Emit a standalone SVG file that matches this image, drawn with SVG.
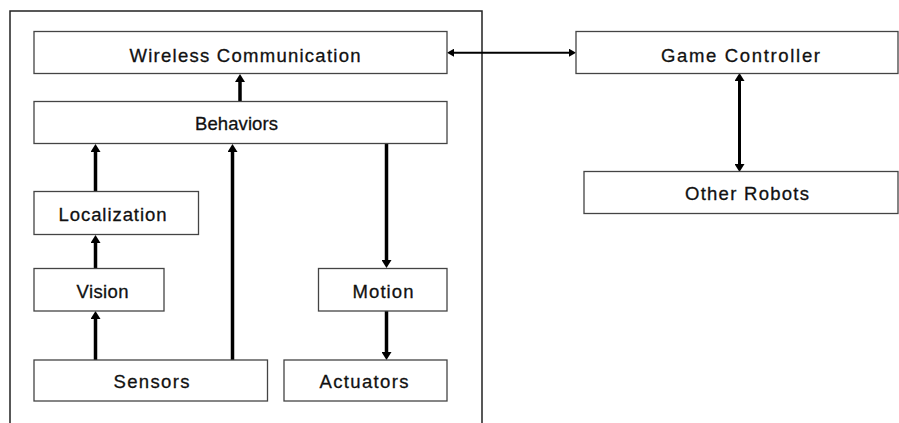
<svg xmlns="http://www.w3.org/2000/svg" width="899" height="423" viewBox="0 0 899 423">
<style>
  .box { fill: #ffffff; stroke: #444444; stroke-width: 1.3; }
  .lbl { font-family: "Liberation Sans", Arial, sans-serif; font-size: 18.5px; fill: #111111; stroke: #111111; stroke-width: 0.3; }
  .thick { stroke: #000000; stroke-width: 3.5; fill: none; }
  .thin { stroke: #000000; stroke-width: 2; fill: none; }
  .frame { fill: none; stroke: #222222; stroke-width: 1.5; }
</style>
<defs>
  <marker id="ah" viewBox="0 0 8 10" markerWidth="8" markerHeight="10" refX="2" refY="5" orient="auto-start-reverse" markerUnits="userSpaceOnUse">
    <path d="M0,0 L8,5 L0,10 z" fill="#000"/>
  </marker>
  <marker id="ahs" viewBox="0 0 7 8" markerWidth="7" markerHeight="8" refX="2" refY="4" orient="auto-start-reverse" markerUnits="userSpaceOnUse">
    <path d="M0,0 L7,4 L0,8 z" fill="#000"/>
  </marker>
</defs>
<rect width="899" height="423" fill="#ffffff"/>
<path class="frame" d="M10,430 V11 H482 V430"/>

<g id="connectors">
  <line class="thick" x1="240" y1="102" x2="240" y2="80" marker-end="url(#ah)"/>
  <line class="thick" x1="95.5" y1="192" x2="95.5" y2="150" marker-end="url(#ah)"/>
  <line class="thick" x1="95.5" y1="268" x2="95.5" y2="241" marker-end="url(#ah)"/>
  <line class="thick" x1="95.5" y1="360" x2="95.5" y2="317" marker-end="url(#ah)"/>
  <line class="thick" x1="232.5" y1="360" x2="232.5" y2="150" marker-end="url(#ah)"/>
  <line class="thick" x1="386.5" y1="143" x2="386.5" y2="262" marker-end="url(#ah)"/>
  <line class="thick" x1="386.5" y1="311" x2="386.5" y2="354" marker-end="url(#ah)"/>
  <line class="thin" x1="452" y1="52.7" x2="571" y2="52.7" marker-start="url(#ahs)" marker-end="url(#ahs)"/>
  <line style="stroke:#000;stroke-width:3;fill:none" x1="739.5" y1="79" x2="739.5" y2="166" marker-start="url(#ah)" marker-end="url(#ah)"/>
</g>

<g id="wireless">
  <rect class="box" x="34" y="31.5" width="413" height="42"/>
  <text class="lbl" x="129.5" y="62" textLength="231">Wireless Communication</text>
</g>
<g id="behaviors">
  <rect class="box" x="34" y="101.5" width="413" height="42"/>
  <text class="lbl" x="195" y="129.5" textLength="83">Behaviors</text>
</g>
<g id="localization">
  <rect class="box" x="34" y="191.5" width="164.5" height="43"/>
  <text class="lbl" x="58.5" y="220.5" textLength="108">Localization</text>
</g>
<g id="vision">
  <rect class="box" x="34" y="268.5" width="130" height="42.5"/>
  <text class="lbl" x="76.5" y="297.5" textLength="52">Vision</text>
</g>
<g id="motion">
  <rect class="box" x="318.5" y="268.5" width="128.5" height="42.5"/>
  <text class="lbl" x="352.5" y="297.5" textLength="61">Motion</text>
</g>
<g id="sensors">
  <rect class="box" x="34" y="360" width="233.5" height="41"/>
  <text class="lbl" x="113.5" y="388" textLength="76">Sensors</text>
</g>
<g id="actuators">
  <rect class="box" x="284" y="360" width="163" height="41"/>
  <text class="lbl" x="319.5" y="388" textLength="89">Actuators</text>
</g>
<g id="game-controller">
  <rect class="box" x="576" y="31.5" width="322" height="42"/>
  <text class="lbl" x="661" y="61.5" textLength="159">Game Controller</text>
</g>
<g id="other-robots">
  <rect class="box" x="584" y="171.5" width="314" height="42"/>
  <text class="lbl" x="685" y="200" textLength="124">Other Robots</text>
</g>
</svg>
